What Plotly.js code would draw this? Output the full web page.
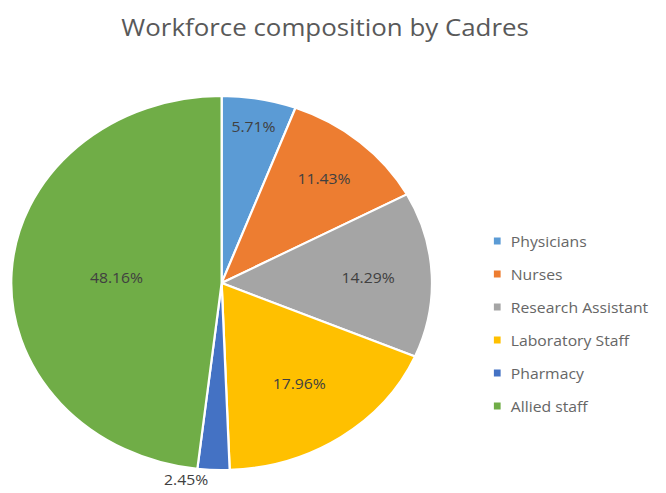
<!DOCTYPE html>
<html>
<head>
<meta charset="utf-8">
<script src="https://cdn.plot.ly/plotly-3.0.1.min.js"></script>
<style>
  html, body { margin: 0; padding: 0; background: #ffffff; overflow: hidden; }
  #wrap { width: 666px; height: 493px; overflow: hidden; }
  /* the reference picture is stretched horizontally (elliptical pie, wide text) */
  #chart { width: 592px; height: 493px; transform: scaleX(1.125); transform-origin: 0 0; }
</style>
</head>
<body>
<div id="wrap"><div id="chart"></div></div>
<script>
// Data
const chartTitle = "Workforce composition by Cadres";
const categories = ["Physicians", "Nurses", "Research Assistant", "Laboratory Staff", "Pharmacy", "Allied staff"];
const percentValues = [5.71, 11.43, 14.29, 17.96, 2.45, 48.16];
const sliceColors = ["#5B9BD5", "#ED7D31", "#A5A5A5", "#FFC000", "#4472C4", "#70AD47"];
const labelPositions = ["inside", "inside", "inside", "inside", "outside", "inside"];

const W = 592, H = 493;
const px = v => v / W;
const py = v => 1 - v / H;

const trace = {
  type: "pie",
  labels: categories,
  values: percentValues,
  sort: false,
  direction: "clockwise",
  rotation: 0,
  marker: { colors: sliceColors, line: { color: "#ffffff", width: 2 } },
  text: percentValues.map(v => v.toFixed(2) + "%"),
  textinfo: "text",
  textposition: labelPositions,
  insidetextorientation: "horizontal",
  textfont: { family: "Open Sans, sans-serif", size: 14, color: "#404040" },
  outsidetextfont: { family: "Open Sans, sans-serif", size: 14, color: "#404040" },
  domain: { x: [px(10), px(384)], y: [py(470), py(96)] },
  showlegend: false,
  hoverinfo: "label+percent"
};

// Custom legend built from the category arrays (to match the wide row spacing)
const legendX = 439, legendTop = 241, legendStep = 33;
const shapes = [];
const annotations = [];
categories.forEach((c, i) => {
  const yc = legendTop + i * legendStep;
  shapes.push({
    type: "rect", xref: "paper", yref: "paper",
    x0: px(legendX), x1: px(legendX + 6), y0: py(yc + 3.5), y1: py(yc - 3.5),
    fillcolor: sliceColors[i], line: { width: 0 }
  });
  annotations.push({
    xref: "paper", yref: "paper", x: px(legendX + 13), y: py(yc),
    xanchor: "left", yanchor: "middle", showarrow: false,
    text: c, font: { family: "Open Sans, sans-serif", size: 14, color: "#666666" }
  });
});

const layout = {
  width: W, height: H,
  margin: { l: 0, r: 0, t: 0, b: 0 },
  paper_bgcolor: "#ffffff",
  title: {
    text: chartTitle,
    x: px(289), xanchor: "center",
    y: py(28), yanchor: "middle",
    font: { family: "Open Sans, sans-serif", size: 23, color: "#595959" }
  },
  showlegend: false,
  shapes: shapes,
  annotations: annotations
};

Plotly.newPlot("chart", [trace], layout, { displayModeBar: false, staticPlot: true });
</script>
</body>
</html>
